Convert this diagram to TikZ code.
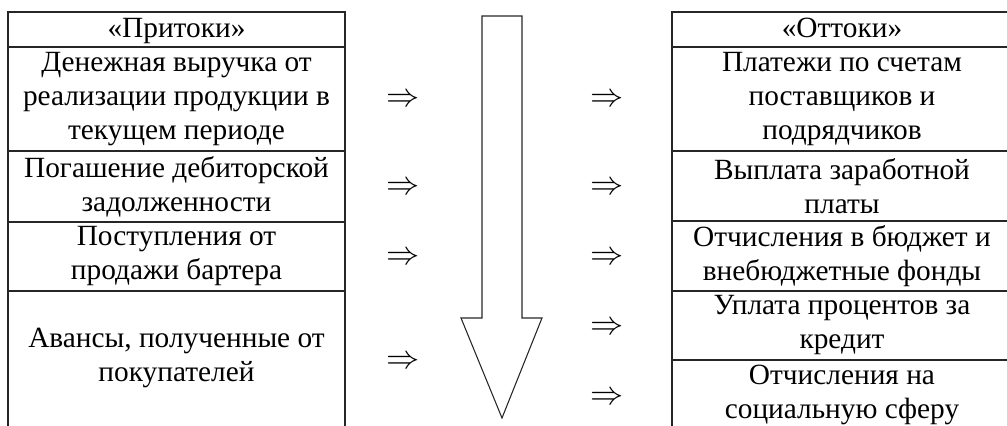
\documentclass[tikz,border=0pt]{standalone}
\usepackage{fontspec}
\setmainfont{Liberation Serif}
\usetikzlibrary{positioning}

\begin{document}
\begin{tikzpicture}[x=0.75pt,y=-0.75pt,
    cell/.style={font=\fontsize{22}{25.5}\selectfont,align=center,inner sep=0pt},
    grid/.style={draw=black!85,line width=1pt},
    flow/.style={font=\fontsize{28}{28}\selectfont,inner sep=0pt}]
    \useasboundingbox (0,0) rectangle (1007,425);
    \clip (0,0) rectangle (1007,425);
    % inflows table
    \draw[grid] (8,12) rectangle (345,440);
    \foreach \y in {47,151,222,291} \draw[grid] (8,\y) -- (345,\y);
    \node[cell,anchor=base] (in0) at (176.5,37) {«Притоки»};
    \node[cell] (in1) at (176.5,99)   {Денежная выручка от\\реализации продукции в\\текущем периоде};
    \node[cell] (in2) at (176.5,186.5) {Погашение дебиторской\\задолженности};
    \node[cell] (in3) at (176.5,256.5) {Поступления от\\продажи бартера};
    \node[cell] (in4) at (176.5,358)  {Авансы, полученные от\\покупателей};
    % outflows table
    \draw[grid] (672,12) rectangle (1012,440);
    \foreach \y in {47,151,221,291,360} \draw[grid] (672,\y) -- (1012,\y);
    \node[cell,anchor=base] (out0) at (842,37) {«Оттоки»};
    \node[cell] (out1) at (842,99)    {Платежи по счетам\\поставщиков и\\подрядчиков};
    \node[cell] (out2) at (842,186)   {Выплата заработной\\платы};
    \node[cell] (out3) at (842,256)   {Отчисления в бюджет и\\внебюджетные фонды};
    \node[cell] (out4) at (842,325.5) {Уплата процентов за\\кредит};
    \node[cell] (out5) at (842,395)   {Отчисления на\\социальную сферу};
    % flow signs
    \foreach \y [count=\i] in {100,188,258,362}
      \node[flow] (fin\i) at (403,\y) {$\Rightarrow$};
    \foreach \y [count=\i] in {100,188,258,328,398}
      \node[flow] (fout\i) at (607,\y) {$\Rightarrow$};
    % big arrow
    \draw[black!85,line width=0.8pt] (482,16) -- (522,16) -- (522,318) -- (542,318)
      -- (502,418) -- (461,318) -- (482,318) -- cycle;
\end{tikzpicture}
\end{document}
